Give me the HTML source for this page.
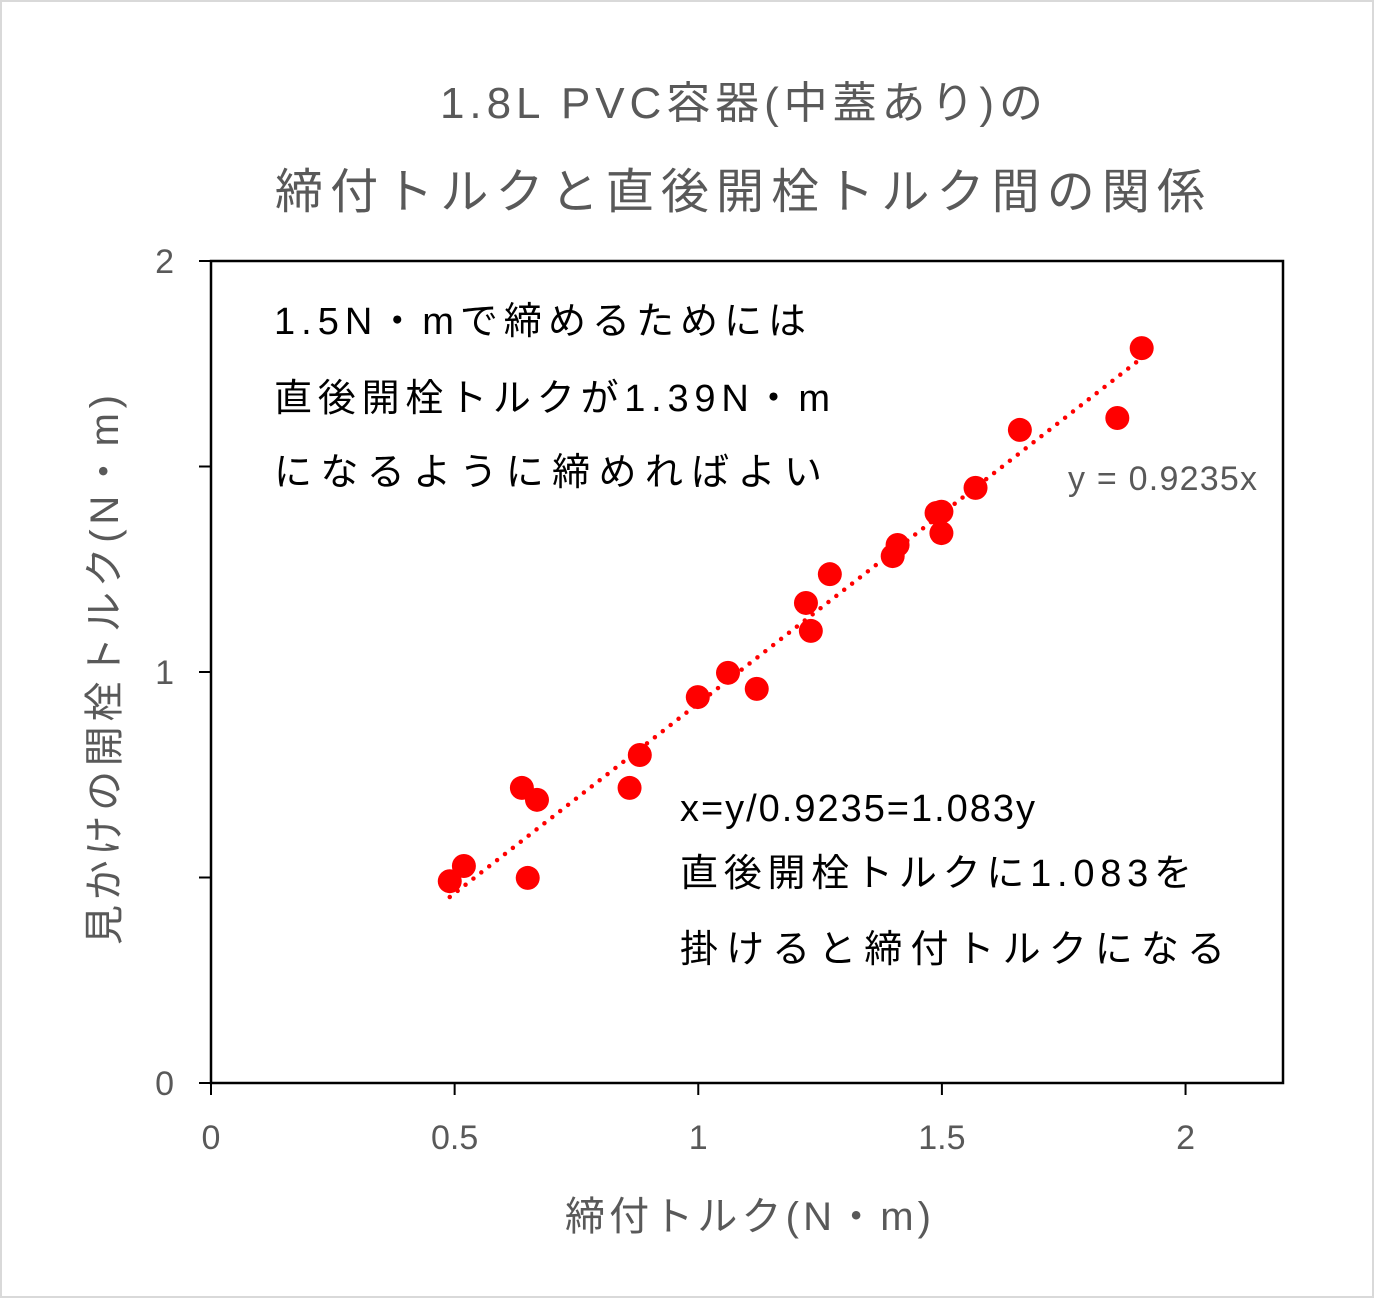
<!DOCTYPE html>
<html><head><meta charset="utf-8">
<style>
body{margin:0;background:#fff;}
svg{display:block;}
text{font-family:"Liberation Sans","Noto Sans CJK JP",sans-serif;}
</style></head>
<body>
<svg id="chart" width="1374" height="1298" xmlns="http://www.w3.org/2000/svg">
<rect x="1" y="1" width="1372" height="1296" fill="#fff" stroke="#d9d9d9" stroke-width="2"/>
<text x="440" y="118" textLength="603" lengthAdjust="spacing" font-size="44" fill="#595959">1.8L PVC容器(中蓋あり)の</text>
<text x="275" y="208" textLength="930" lengthAdjust="spacing" font-size="48" fill="#595959">締付トルクと直後開栓トルク間の関係</text>
<g id="axes"></g>
<g id="trend"></g>
<g id="points"></g>
<rect x="211" y="261" width="1072" height="822" fill="none" stroke="#000" stroke-width="2.5"/>
<text x="1068" y="490" textLength="189" lengthAdjust="spacing" font-size="34" fill="#595959">y = 0.9235x</text>
<g font-size="38" fill="#000">
<text x="274" y="334" textLength="532" lengthAdjust="spacing">1.5N・mで締めるためには</text>
<text x="274" y="411" textLength="556" lengthAdjust="spacing">直後開栓トルクが1.39N・m</text>
<text x="274" y="485" textLength="548" lengthAdjust="spacing">になるように締めればよい</text>
</g>
<g font-size="38" fill="#000">
<text x="680" y="821" textLength="355" lengthAdjust="spacing">x=y/0.9235=1.083y</text>
<text x="680" y="886" textLength="512" lengthAdjust="spacing">直後開栓トルクに1.083を</text>
<text x="680" y="962" textLength="545" lengthAdjust="spacing">掛けると締付トルクになる</text>
</g>
<text x="565" y="1230" textLength="366" lengthAdjust="spacing" font-size="40" fill="#595959">締付トルク(N・m)</text>
<text transform="translate(118,945) rotate(-90)" x="0" y="0" textLength="550" lengthAdjust="spacing" font-size="40" fill="#595959">見かけの開栓トルク(N・m)</text>
</svg>
<script>
const xs=[0.49,0.519,0.638,0.669,0.65,0.859,0.88,0.999,1.061,1.12,1.221,1.231,1.27,1.399,1.409,1.489,1.499,1.499,1.569,1.66,1.86,1.91];
const ys=[0.491,0.528,0.718,0.689,0.499,0.718,0.798,0.939,0.998,0.959,1.168,1.1,1.238,1.282,1.309,1.387,1.338,1.39,1.448,1.589,1.618,1.788];
const xTicks=[0,0.5,1,1.5,2];
const xTickLabels=["0","0.5","1","1.5","2"];
const yTicks=[0,0.5,1,1.5,2];
const yTickLabels=["0","","1","","2"];
const slope=0.9235;
const trendRange=[0.49,1.91];
const NS="http://www.w3.org/2000/svg";
const X=v=>211+v*(1072/2.2);
const Y=v=>1083-v*411;
function mk(tag,attrs,parent){const e=document.createElementNS(NS,tag);for(const k in attrs)e.setAttribute(k,attrs[k]);parent.appendChild(e);return e;}
const axes=document.getElementById('axes');
xTicks.forEach((t,i)=>{
 const l=mk('line',{x1:X(t),x2:X(t),y1:1083,y2:1095,stroke:'#000','stroke-width':2},axes);
 
 
 const tx=mk('text',{x:X(t),y:1149,'text-anchor':'middle','font-size':34,fill:'#595959'},axes);
 tx.textContent=xTickLabels[i];
 
 
});
yTicks.forEach((t,i)=>{
 const l=mk('line',{x1:199,x2:211,y1:Y(t),y2:Y(t),stroke:'#000','stroke-width':2},axes);
 
 
 if(yTickLabels[i]){
 const tx=mk('text',{x:174,y:Y(t)+12,'text-anchor':'end','font-size':34,fill:'#595959'},axes);
 tx.textContent=yTickLabels[i];
 
 
 }
});
const tr=mk('line',{x1:X(trendRange[0]),y1:Y(trendRange[0]*slope),x2:X(trendRange[1]),y2:Y(trendRange[1]*slope),stroke:'#f00','stroke-width':4.5,'stroke-dasharray':'0 10','stroke-linecap':'round'},document.getElementById('trend'));


const pts=document.getElementById('points');
xs.forEach((x,i)=>{
 const c=mk('circle',{cx:X(x),cy:Y(ys[i]),r:12,fill:'#f00'},pts);
 
 
});
</script>
</body></html>
